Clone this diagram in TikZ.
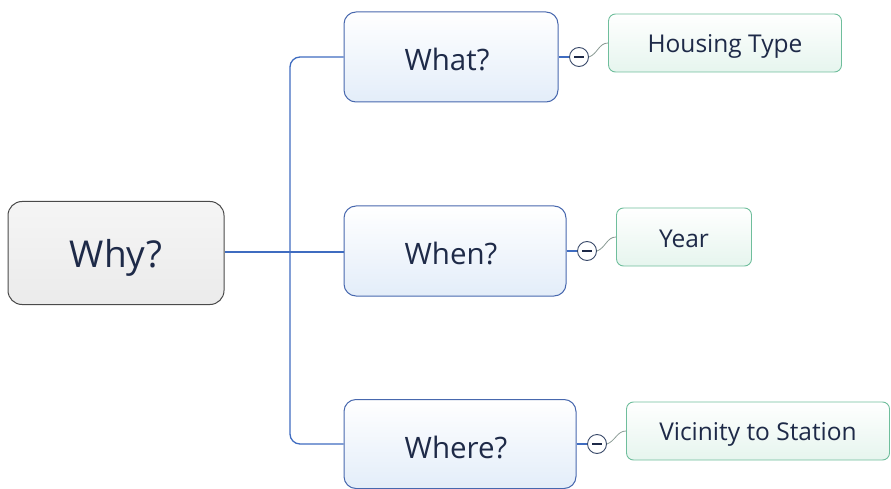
\documentclass[tikz,border=0pt]{standalone}
\usepackage{fontspec}
\setmainfont{Open Sans}
\definecolor{txtc}{HTML}{1E2A48}
\definecolor{linec}{HTML}{3F6CC0}
\definecolor{mainb}{HTML}{4868AE}
\definecolor{mainf}{HTML}{E3EDF9}
\definecolor{leafb}{HTML}{6FBE9C}
\definecolor{leaff}{HTML}{E6F5EE}
\definecolor{rootb}{HTML}{4A4A4A}
\definecolor{rootf}{HTML}{EBEBEB}
\definecolor{twigc}{HTML}{8A9A94}
\definecolor{togc}{HTML}{3A4A6A}
\newcommand{\dn}[2]{\raisebox{-#1}[\height][\depth]{#2}}
\begin{document}
\begin{tikzpicture}[x=1pt,y=-1pt,
  txt/.style={text=txtc},
  rootbox/.style={draw=rootb, line width=1pt, rounded corners=14pt, top color=rootf!50, bottom color=rootf, txt, font=\fontsize{37}{40}\selectfont, inner sep=0pt},
  mainbox/.style={draw=mainb, line width=1pt, rounded corners=12pt, top color=white, bottom color=mainf, txt, font=\fontsize{29.5}{32}\selectfont, inner sep=0pt},
  leafbox/.style={draw=leafb, line width=0.9pt, rounded corners=7pt, top color=white, bottom color=leaff, txt, font=\fontsize{24.5}{27}\selectfont, inner sep=0pt},
  tog/.style={circle, draw=togc, line width=0.9pt, fill=white, minimum size=19pt, inner sep=0pt},
  trunk/.style={draw=linec, line width=1.3pt},
  twig/.style={draw=twigc, line width=0.8pt}
]
\useasboundingbox (0,0) rectangle (891,489);
\node[rootbox, minimum width=216pt, minimum height=103pt] (why) at (116,253) {\dn{5pt}{Why?}};
\node[mainbox, minimum width=214pt, minimum height=90pt] (what) at (451,57) {\hspace*{-8pt}\dn{3pt}{What?}};
\node[mainbox, minimum width=222pt, minimum height=90pt] (when) at (455,251) {\hspace*{-8pt}\dn{3pt}{When?}};
\node[mainbox, minimum width=232pt, minimum height=89pt] (where) at (460,444) {\hspace*{-8pt}\dn{3pt}{Where?}};
\node[leafbox, minimum width=233pt, minimum height=58pt] (hou) at (725,43) {\dn{3pt}{Housing Type}};
\node[leafbox, minimum width=135pt, minimum height=58pt] (year) at (684,237) {\dn{2pt}{Year}};
\node[leafbox, minimum width=263pt, minimum height=58pt] (vic) at (758,431) {\dn{3pt}{Vicinity to Station}};
\node[tog] (t1) at (579,57) {};
\node[tog] (t2) at (587,251) {};
\node[tog] (t3) at (597,444) {};
\foreach \t in {t1,t2,t3}{\draw[line width=1.6pt, txtc] ([xshift=-5pt]\t.center) -- ([xshift=5pt]\t.center);}
\coordinate (j) at (290,252);
\draw[trunk] (why.east |- j) -- (j) -- (when.west |- j);
\draw[trunk, rounded corners=10pt] (what.west) -| (j) |- (where.west);
\draw[trunk] (what.east) -- (t1.west);
\draw[trunk] (when.east) -- (t2.west);
\draw[trunk] (where.east) -- (t3.west);
\draw[twig] (t1.east) to[out=20,in=180] (hou.west);
\draw[twig] (t2.east) to[out=20,in=180] (year.west);
\draw[twig] (t3.east) to[out=20,in=180] (vic.west);
\end{tikzpicture}
\end{document}
